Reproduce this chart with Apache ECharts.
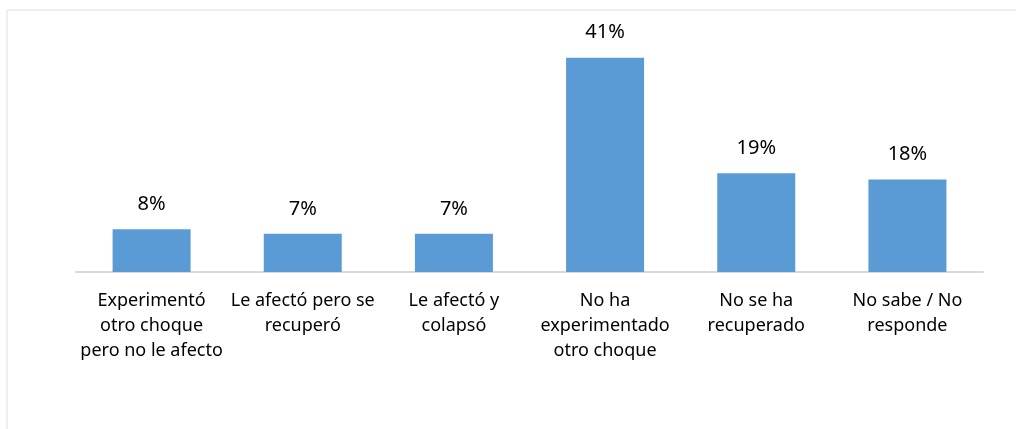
<!DOCTYPE html>
<html>
<head>
<meta charset="utf-8">
<script src="https://cdn.jsdelivr.net/npm/echarts@6/dist/echarts.min.js"></script>
<style>
html,body{margin:0;padding:0;background:#fff;}
#chart{width:1016px;height:429px;}
</style>
</head>
<body>
<div id="chart"></div>
<script>
const categories = [
  "Experimentó\notro choque\npero no le afecto",
  "Le afectó pero se\nrecuperó",
  "Le afectó y\ncolapsó",
  "No ha\nexperimentado\notro choque",
  "No se ha\nrecuperado",
  "No sabe / No\nresponde"
];
const values = [8.2, 7.3, 7.3, 41, 18.9, 17.7];

const chart = echarts.init(document.getElementById('chart'));
chart.setOption({
  animation: false,
  backgroundColor: '#ffffff',
  graphic: [{
    type: 'rect',
    shape: { x: 7, y: 10, width: 1020, height: 430 },
    style: { fill: 'none', stroke: '#efefef', lineWidth: 2 },
    silent: true
  }],
  grid: { left: 76, right: 33, top: 10.6, bottom: 157, containLabel: false },
  xAxis: {
    type: 'category',
    data: categories,
    axisLine: { lineStyle: { color: '#d9d9d9', width: 2 } },
    axisTick: { show: false },
    axisLabel: {
      interval: 0,
      color: '#000000',
      fontFamily: 'Noto Sans',
      fontSize: 18,
      lineHeight: 25,
      margin: 16
    }
  },
  yAxis: {
    type: 'value',
    min: 0,
    max: 50,
    show: false,
    splitLine: { show: false }
  },
  series: [{
    type: 'bar',
    data: values,
    barWidth: 78,
    itemStyle: { color: '#5b9bd5' },
    label: {
      show: true,
      position: 'top',
      distance: 15,
      color: '#000000',
      fontFamily: 'Noto Sans',
      fontSize: 20,
      formatter: p => Math.round(p.value) + '%'
    }
  }]
});
</script>
</body>
</html>
